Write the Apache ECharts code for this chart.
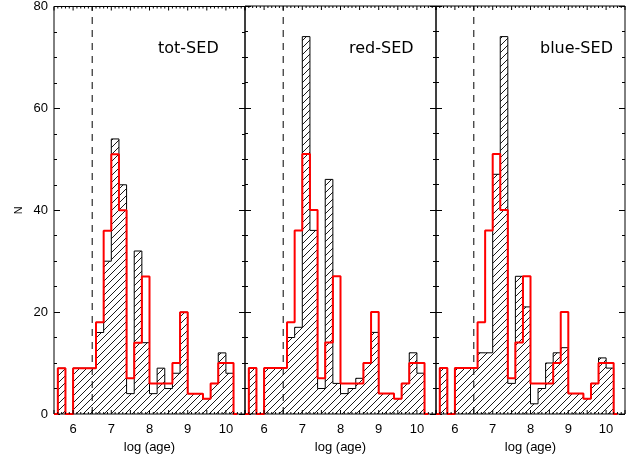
<!DOCTYPE html>
<html>
<head>
<meta charset="utf-8">
<script src="https://cdn.jsdelivr.net/npm/echarts@6/dist/echarts.min.js"></script>
<style>html,body{margin:0;padding:0;background:#fff}#c{width:634px;height:459px}</style>
</head>
<body>
<div id="c"></div>
<script>
// Left edges of histogram bins (bin width 0.2)
const binEdges = [5.6,5.8,6.0,6.2,6.4,6.6,6.8,7.0,7.2,7.4,7.6,7.8,8.0,8.2,8.4,8.6,8.8,9.0,9.2,9.4,9.6,9.8,10.0];
const binWidth = 0.2;
// Red reference histogram (same in every panel)
const redHist   = [9,0,9,9,9,18,36,51,40,7,14,27,6,6,6,10,20,4,4,3,6,10,10];
// Black hatched histograms
const totHist   = [9,0,9,9,9,16,30,54,45,4,32,14,4,9,5,8,20,4,4,3,6,12,8];
const redSedHist  = [9,0,9,9,9,15,17,74,36,5,46,6,4,5,7,10,16,4,4,3,6,12,8];
const blueSedHist = [9,0,9,9,9,12,12,47,74,6,27,21,2,5,10,12,13,4,4,3,6,11,9];
const panelNames = ['tot-SED','red-SED','blue-SED'];
const xTickLabels = [6,7,8,9,10];
const dashX = 6.5;
const xMin = 5.5, xMax = 10.5, yMin = 0, yMax = 80;
const xMajorStep = 0.5, xMinorPerMajor = 5;

function stepData(vals){
  const pts = [[xMin, 0]];
  for (let i = 0; i < binEdges.length; i++) pts.push([binEdges[i], vals[i]]);
  const end = binEdges[binEdges.length-1] + binWidth;
  pts.push([end, 0]);
  pts.push([end + binWidth/2, 0]);
  return pts;
}

// tick positions along x (major every 0.5, minor every 0.1)
function xTickList(){
  const n = Math.round((xMax - xMin) / xMajorStep) * xMinorPerMajor;
  const out = [];
  for (let k = 0; k <= n; k++){
    out.push([+(xMin + k * xMajorStep / xMinorPerMajor).toFixed(4), k % xMinorPerMajor === 0 ? 1 : 0]);
  }
  return out;
}

function hatch(){
  const s = 7;
  const c = document.createElement('canvas');
  c.width = s; c.height = s;
  const g = c.getContext('2d');
  g.strokeStyle = '#000';
  g.lineWidth = 0.9;
  g.beginPath();
  g.moveTo(0, s); g.lineTo(s, 0);
  g.moveTo(-1, 1); g.lineTo(1, -1);
  g.moveTo(s-1, s+1); g.lineTo(s+1, s-1);
  g.stroke();
  return c;
}
const pattern = {image: hatch(), repeat: 'repeat'};

const lefts = [54, 245, 436];
const widths = [191, 191, 189];
const gridTop = 6, ph = 409;
const font = 'Liberation Sans';

const grids = [], xAxes = [], yAxes = [], series = [], graphics = [];
const blacks = [totHist, redSedHist, blueSedHist];
const tickStyle = {color:'#000', width:1};

function xAxisDef(i){
  return {
    type:'value', gridIndex:i, position:'bottom', min:xMin, max:xMax, interval:xMajorStep,
    axisLine:{show:false, onZero:false},
    axisTick:{show:false},
    splitLine:{show:false},
    axisLabel:{show:true, margin:9, color:'#000', fontFamily:font, fontSize:13,
      formatter: v => xTickLabels.some(t => Math.abs(t - v) < 1e-6) ? String(Math.round(v)) : ''},
    name:'log (age)', nameLocation:'middle', nameGap:27,
    nameTextStyle:{color:'#000', fontFamily:font, fontSize:13}
  };
}
function yAxisDef(i, pos){
  return {
    type:'value', gridIndex:i, position:pos, min:yMin, max:yMax, interval:20,
    axisLine:{show:false, onZero:false},
    axisTick:{show:true, inside:true, length:6, lineStyle:tickStyle},
    minorTick:{show:true, splitNumber:4, length:3, lineStyle:tickStyle},
    splitLine:{show:false}, minorSplitLine:{show:false},
    axisLabel:{show: pos==='left' && i===0, margin:6, color:'#000', fontFamily:font, fontSize:13},
    name: (pos==='left' && i===0) ? 'N' : undefined, nameLocation:'middle', nameGap:30, nameRotate:90,
    nameTextStyle:{color:'#000', fontFamily:font, fontSize:11}
  };
}

for (let i = 0; i < 3; i++){
  grids.push({left:lefts[i], top:gridTop, width:widths[i], height:ph, show:true, borderColor:'#000', borderWidth:1, backgroundColor:'transparent', containLabel:false});
  xAxes.push(xAxisDef(i));
  yAxes.push(yAxisDef(i, 'left'));
}
for (let i = 0; i < 3; i++) yAxes.push(yAxisDef(i, 'right'));

const ticks = xTickList();
const topTicks = ticks.map(t => ({value:[t[0], yMax], symbolSize:[1, t[1] ? 4 : 2], symbolOffset:[0, t[1] ? 2 : 1]}));
const bottomTicks = ticks.map(t => ({value:[t[0], yMin], symbolSize:[1, t[1] ? 4 : 2], symbolOffset:[0, t[1] ? -2 : -1]}));

for (let i = 0; i < 3; i++){
  series.push({
    type:'line', xAxisIndex:i, yAxisIndex:i, step:'end', data:stepData(blacks[i]),
    symbol:'none', silent:true, z:2,
    lineStyle:{color:'#000', width:1},
    areaStyle:{color:pattern, opacity:1}
  });
  series.push({
    type:'line', xAxisIndex:i, yAxisIndex:i, step:'end', data:stepData(redHist),
    symbol:'none', silent:true, z:4,
    lineStyle:{color:'#ff0000', width:2}
  });
  series.push({
    type:'line', xAxisIndex:i, yAxisIndex:i, data:[[dashX,yMin],[dashX,yMax]],
    symbol:'none', silent:true, z:3,
    lineStyle:{color:'#000', width:1, type:[7,6]}
  });
  // x-axis tick marks on top and bottom frame edges, placed through the axis scale
  series.push({
    type:'scatter', xAxisIndex:i, yAxisIndex:i, data:topTicks, symbol:'rect',
    silent:true, clip:false, z:5, itemStyle:{color:'#000', opacity:1}
  });
  series.push({
    type:'scatter', xAxisIndex:i, yAxisIndex:i, data:bottomTicks, symbol:'rect',
    silent:true, clip:false, z:5, itemStyle:{color:'#000', opacity:1}
  });
  graphics.push({
    type:'text', left:lefts[i]+104, top:41,
    style:{text:panelNames[i], fill:'#000', font:'16px "DejaVu Sans"'}
  });
}

const chart = echarts.init(document.getElementById('c'), null, {renderer:'canvas'});
chart.setOption({
  animation:false,
  backgroundColor:'#fff',
  grid:grids, xAxis:xAxes, yAxis:yAxes, series:series, graphic:graphics
});
</script>
</body>
</html>
